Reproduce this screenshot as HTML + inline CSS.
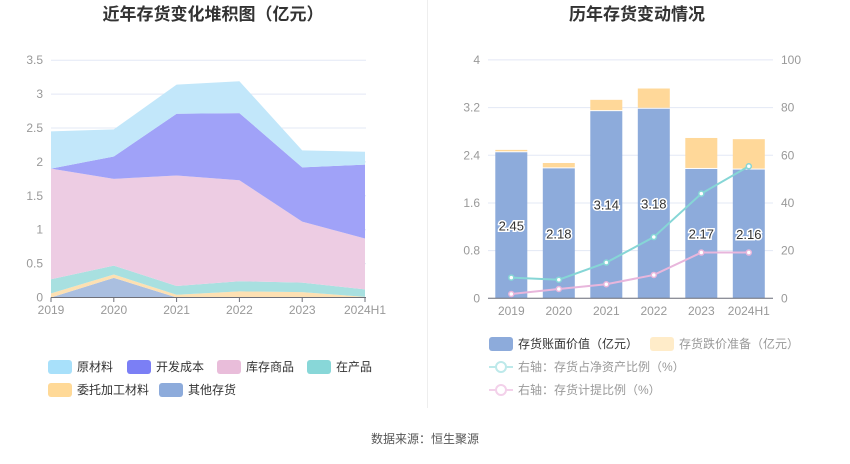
<!DOCTYPE html>
<html><head><meta charset="utf-8"><style>
body{margin:0;background:#fff;font-family:"Liberation Sans","Noto Sans CJK SC",sans-serif;}
svg text{font-family:"Liberation Sans","Noto Sans CJK SC",sans-serif;}
</style></head><body>
<svg id="s" width="850" height="459" viewBox="0 0 850 459" xmlns="http://www.w3.org/2000/svg">
<text x="213" y="20" text-anchor="middle" font-size="17" font-weight="bold" fill="#333">近年存货变化堆积图（亿元）</text>
<text x="637" y="20" text-anchor="middle" font-size="17" font-weight="bold" fill="#333">历年存货变动情况</text>
<line x1="427.5" y1="0" x2="427.5" y2="408" stroke="#eee"/>
<g id="left"></g>
<g id="right"></g>
<g>
<rect x="48" y="360" width="24" height="14" rx="3" fill="#a8e0fa"/><text x="77" y="371" font-size="12" fill="#333">原材料</text>
<rect x="127" y="360" width="24" height="14" rx="3" fill="#7b7ff5"/><text x="156" y="371" font-size="12" fill="#333">开发成本</text>
<rect x="217" y="360" width="24" height="14" rx="3" fill="#e9bdda"/><text x="246" y="371" font-size="12" fill="#333">库存商品</text>
<rect x="307" y="360" width="24" height="14" rx="3" fill="#88d7d8"/><text x="336" y="371" font-size="12" fill="#333">在产品</text>
<rect x="48" y="383" width="24" height="14" rx="3" fill="#ffd997"/><text x="77" y="394" font-size="12" fill="#333">委托加工材料</text>
<rect x="159" y="383" width="24" height="14" rx="3" fill="#8dabdb"/><text x="188" y="394" font-size="12" fill="#333">其他存货</text>
</g>
<g>
<rect x="489" y="337" width="24" height="14" rx="3" fill="#8dabdb"/><text x="518" y="348" font-size="12" fill="#333">存货账面价值（亿元）</text>
<rect x="650" y="337" width="24" height="14" rx="3" fill="#ffecc9"/><text x="679" y="348" font-size="12" fill="#999">存货跌价准备（亿元）</text>
<line x1="489" y1="367" x2="513" y2="367" stroke="#bde9ea" stroke-width="2"/><circle cx="501" cy="367" r="5" fill="#fff" stroke="#bde9ea" stroke-width="2"/><text x="518" y="371" font-size="12" fill="#999">右轴：存货占净资产比例（%）</text>
<line x1="489" y1="390" x2="513" y2="390" stroke="#f3d1ea" stroke-width="2"/><circle cx="501" cy="390" r="5" fill="#fff" stroke="#f3d1ea" stroke-width="2"/><text x="518" y="394" font-size="12" fill="#999">右轴：存货计提比例（%）</text>
</g>
<text x="425" y="443" text-anchor="middle" font-size="12" fill="#555">数据来源：恒生聚源</text>
</svg>
<script>
const years=["2019","2020","2021","2022","2023","2024H1"];
const other=[0,0.29,0,0,0,0];
const consigned=[0.06,0.05,0.04,0.09,0.08,0.01];
const wip=[0.21,0.13,0.13,0.15,0.14,0.11];
const goods=[1.63,1.28,1.63,1.49,0.90,0.75];
const devCost=[0,0.33,0.91,0.99,0.80,1.09];
const rawMat=[0.55,0.40,0.43,0.47,0.25,0.19];
const leftTicks=["0","0.5","1","1.5","2","2.5","3","3.5"];
const bookValue=[2.45,2.18,3.14,3.18,2.17,2.16];
const impairment=[0.04,0.09,0.19,0.34,0.52,0.51];
const ratioNet=[8.7,7.8,15,25.7,43.9,55.4];
const provision=[1.8,3.9,5.9,9.8,19.2,19.2];
const rightTicksL=["0","0.8","1.6","2.4","3.2","4"];
const rightTicksR=["0","20","40","60","80","100"];
const NS="http://www.w3.org/2000/svg";
function mk(p,t,a){const e=document.createElementNS(NS,t);for(const k in a)e.setAttribute(k,a[k]);p.appendChild(e);return e;}
// left
const L=document.getElementById('left');
const lx=i=>51+i*62.8, ly=v=>297.5-v*67.8;
leftTicks.forEach(t=>{const y=ly(+t);
 const g=mk(L,'line',{x1:51,x2:366,y1:y,y2:y,stroke:'#e3e8f5'});
 
 
 const tx=mk(L,'text',{x:43,y:y+4,'text-anchor':'end','font-size':12,fill:'#999'});tx.textContent=t;
 
 });
const series=[[other,'#aabfe0','other'],[consigned,'#fde0b2','consigned'],[wip,'#a8e0e0','wip'],[goods,'#edcce3','goods'],[devCost,'#a0a2f8','dev-cost'],[rawMat,'#c2e7fa','raw-materials']];
let base=years.map(()=>0);
series.forEach(([arr,col,nm])=>{const top=base.map((b,i)=>b+arr[i]);
 let d='M'+top.map((v,i)=>lx(i)+','+ly(v)).join(' L');
 for(let i=years.length-1;i>=0;i--)d+=' L'+lx(i)+','+ly(base[i]);
 const p=mk(L,'path',{d:d+'Z',fill:col});
 
 
 base=top;});
mk(L,'line',{x1:51,x2:366,y1:297.5,y2:297.5,stroke:'#6e7079'});
years.forEach((y,i)=>{mk(L,'line',{x1:lx(i),x2:lx(i),y1:297.5,y2:302,stroke:'#6e7079'});
 const t=mk(L,'text',{x:lx(i),y:314,'text-anchor':'middle','font-size':12,fill:'#999'});t.textContent=y;
 
 });
// right
const R=document.getElementById('right');
const rx=i=>511.3+i*47.5, ryl=v=>298.3-v*59.6, ryr=v=>298.3-v*2.383;
rightTicksL.forEach((t,k)=>{const y=ryl(+t);
 const g=mk(R,'line',{x1:488,x2:773,y1:y,y2:y,stroke:'#e3e8f5'});
 
 
 const a=mk(R,'text',{x:480,y:y+4,'text-anchor':'end','font-size':12,fill:'#999'});a.textContent=t;
 
 
 const b=mk(R,'text',{x:781,y:y+4,'font-size':12,fill:'#999'});b.textContent=rightTicksR[k];
 
 });
years.forEach((y,i)=>{const x=rx(i)-16;
 const b=mk(R,'rect',{x:x,y:ryl(bookValue[i]),width:32,height:ryl(0)-ryl(bookValue[i]),fill:'#8dabdb'});
 
 
 const c=mk(R,'rect',{x:x,y:ryl(bookValue[i]+impairment[i]),width:32,height:ryl(bookValue[i])-ryl(bookValue[i]+impairment[i])-1,fill:'#ffd899'});
 
 
 const lbl=mk(R,'text',{x:rx(i),y:ryl(bookValue[i]/2)+5,'text-anchor':'middle','font-size':13,fill:'#333',stroke:'#fff','stroke-width':3,'paint-order':'stroke'});lbl.textContent=bookValue[i].toFixed(2);
 
 });
[[ratioNet,'#86d6d6','ratio-net'],[provision,'#e8b6dc','provision']].forEach(([arr,col,nm])=>{
 const pl=mk(R,'polyline',{points:arr.map((v,i)=>rx(i)+','+ryr(v)).join(' '),fill:'none',stroke:col,'stroke-width':2});
 
 
 arr.forEach((v,i)=>{const c=mk(R,'circle',{cx:rx(i),cy:ryr(v),r:2.5,fill:'#fff',stroke:col,'stroke-width':1.5});
 
 });});
mk(R,'line',{x1:488,x2:773,y1:298.3,y2:298.3,stroke:'#6e7079'});
years.forEach((y,i)=>{const t=mk(R,'text',{x:rx(i),y:315,'text-anchor':'middle','font-size':12,fill:'#999'});t.textContent=y;
 
 });
</script>
</body></html>
